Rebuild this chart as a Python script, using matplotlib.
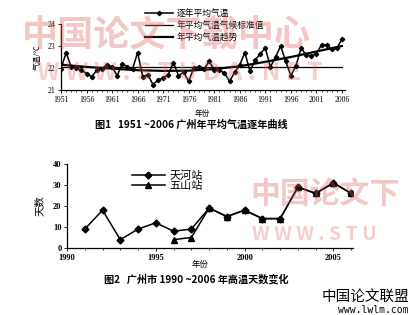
import matplotlib
matplotlib.use("Agg")
import matplotlib.pyplot as plt
from matplotlib.ticker import MultipleLocator

plt.rcParams['font.family'] = ['Noto Sans CJK SC', 'DejaVu Sans']

# figure 1: annual mean temperature, Guangzhou 1951-2006
years1 = list(range(1951, 2007))
temp = [21.97, 22.7, 22.05, 22.0, 21.9, 21.75, 21.6, 21.9, 21.97, 22.15,
        22.05, 21.65, 22.2, 22.05, 21.95, 22.7, 21.6, 21.7, 21.25, 21.45,
        21.55, 21.7, 22.25, 21.65, 21.8, 21.4, 22.0, 22.05, 21.95, 22.3,
        21.93, 21.9, 21.77, 21.4, 21.8, 22.15, 22.7, 21.85, 22.35, 22.65,
        22.9, 22.05, 22.5, 23.0, 22.3, 21.65, 22.1, 22.9, 22.6, 22.55,
        22.65, 23.05, 23.05, 22.85, 22.9, 23.3]
normal_years = [1951, 2006]
normal_temp = [22.05, 22.05]
trend_years = [1951, 1956, 1961, 1966, 1971, 1976, 1981, 1986, 1991, 1996, 2001, 2006]
trend_temp = [22.15, 22.05, 21.97, 21.9, 21.87, 21.88, 21.95, 22.08, 22.28, 22.5, 22.75, 23.0]
labels1 = ['逐年平均气温', '年平均气温气候标准值', '年平均气温趋势']

# figure 2: hot days, 1990-2006
years_th = list(range(1991, 2007))
days_th = [9, 18, 4, 9, 12, 8, 9, 19, 15, 18, 14, 14, 29, 26, 31, 26]
years_ws = list(range(1996, 2007))
days_ws = [4, 5, 19, 15, 18, 14, 14, 29, 26, 31, 26]
labels2 = ['天河站', '五山站']

fig = plt.figure(figsize=(4.12, 3.15), dpi=100)
W, H = 412.0, 315.0


def box(l, t, r, b):
    return [l / W, 1 - b / H, (r - l) / W, (b - t) / H]


serif = 'Liberation Serif'

# ---- top chart ----
ax1 = fig.add_axes(box(61, 24, 345, 90))
ax1.plot(years1, temp, color='black', lw=1.1, marker='D', ms=2.2, label=labels1[0], zorder=3)
ax1.plot(normal_years, normal_temp, color='black', lw=0.9, label=labels1[1])
ax1.plot(trend_years, trend_temp, color='black', lw=1.6, label=labels1[2])
ax1.set_xlim(1951, 2006.6)
ax1.set_ylim(21, 24)
ax1.set_xticks(range(1951, 2007, 5))
ax1.xaxis.set_minor_locator(MultipleLocator(1))
ax1.set_yticks([21, 22, 23, 24])
for s in ['top', 'right']:
    ax1.spines[s].set_visible(False)
for s in ['left', 'bottom']:
    ax1.spines[s].set_linewidth(0.9)
ax1.tick_params(which='major', length=2, width=0.6, pad=2)
ax1.tick_params(which='minor', length=1.2, width=0.5)
for t in ax1.get_xticklabels() + ax1.get_yticklabels():
    t.set_fontfamily(serif)
    t.set_fontsize(5.5)
ax1.set_ylabel('气温/℃', fontsize=5.5, labelpad=4)
fig.text(202 / W, 1 - 114 / H, '年份', fontsize=5.5, ha='center', va='center')
fig.text(191 / W, 1 - 125 / H, '图1   1951 ~2006 广州年平均气温逐年曲线',
         fontsize=7.3, fontweight='bold', ha='center', va='center')
ax1.legend(loc='upper left', bbox_to_anchor=(140 / W, 1 - 4 / H),
           bbox_transform=fig.transFigure, frameon=False, fontsize=6.3,
           handlelength=3.2, handletextpad=0.4, labelspacing=0.35, borderpad=0.1)

# ---- bottom chart ----
ax2 = fig.add_axes(box(67, 164, 353, 248))
ax2.plot(years_th, days_th, color='black', lw=1.1, marker='D', ms=3.5, label=labels2[0])
ax2.plot(years_ws, days_ws, color='black', lw=1.1, marker='^', ms=4.5, label=labels2[1])
ax2.set_xlim(1990, 2006.1)
ax2.set_ylim(0, 40)
ax2.set_xticks([1990, 1995, 2000, 2005])
ax2.xaxis.set_minor_locator(MultipleLocator(1))
ax2.set_yticks([0, 10, 20, 30, 40])
for s in ['top', 'right']:
    ax2.spines[s].set_visible(False)
for s in ['left', 'bottom']:
    ax2.spines[s].set_linewidth(0.9)
ax2.tick_params(which='major', length=2, width=0.6, pad=2)
ax2.tick_params(which='minor', length=1.5, width=0.5)
for t in ax2.get_xticklabels() + ax2.get_yticklabels():
    t.set_fontfamily(serif)
    t.set_fontsize(6)
    t.set_fontweight('bold')
ax2.set_ylabel('天数', fontsize=7.5, labelpad=6)
fig.text(200 / W, 1 - 264 / H, '年份', fontsize=6, ha='center', va='center')
fig.text(196 / W, 1 - 279 / H, '图2   广州市 1990 ~2006 年高温天数变化',
         fontsize=7.3, fontweight='bold', ha='center', va='center')
ax2.legend(loc='upper left', bbox_to_anchor=(125 / W, 1 - 164 / H),
           bbox_transform=fig.transFigure, frameon=False, fontsize=8,
           handlelength=3.0, handletextpad=0.4, labelspacing=0.0, borderpad=0.1)

# watermarks
wm = '#e06060'
fig.text(166 / W, 1 - 36 / H, '中国论文下载中心', fontsize=26, fontweight='bold',
         color=wm, alpha=0.35, ha='center', va='center', zorder=10)
fig.text(180 / W, 1 - 73 / H, 'W W W . S T U D A . N E T', fontsize=18, fontweight='bold',
         color=wm, alpha=0.3, ha='center', va='center', zorder=10)
fig.text(250 / W, 1 - 194 / H, '中国论文下', fontsize=21.5, fontweight='bold',
         color=wm, alpha=0.35, ha='left', va='center', zorder=10)
fig.text(252 / W, 1 - 235 / H, 'W W W . S T U', fontsize=14, fontweight='bold',
         color=wm, alpha=0.3, ha='left', va='center', zorder=10)

fig.text(409 / W, 1 - 297 / H, '中国论文联盟', fontsize=10.5, ha='right', va='center')
fig.text(409 / W, 1 - 310 / H, 'www.lwlm.com', fontsize=7, family='DejaVu Sans Mono',
         ha='right', va='center')

fig.savefig('out.png', dpi=100)
